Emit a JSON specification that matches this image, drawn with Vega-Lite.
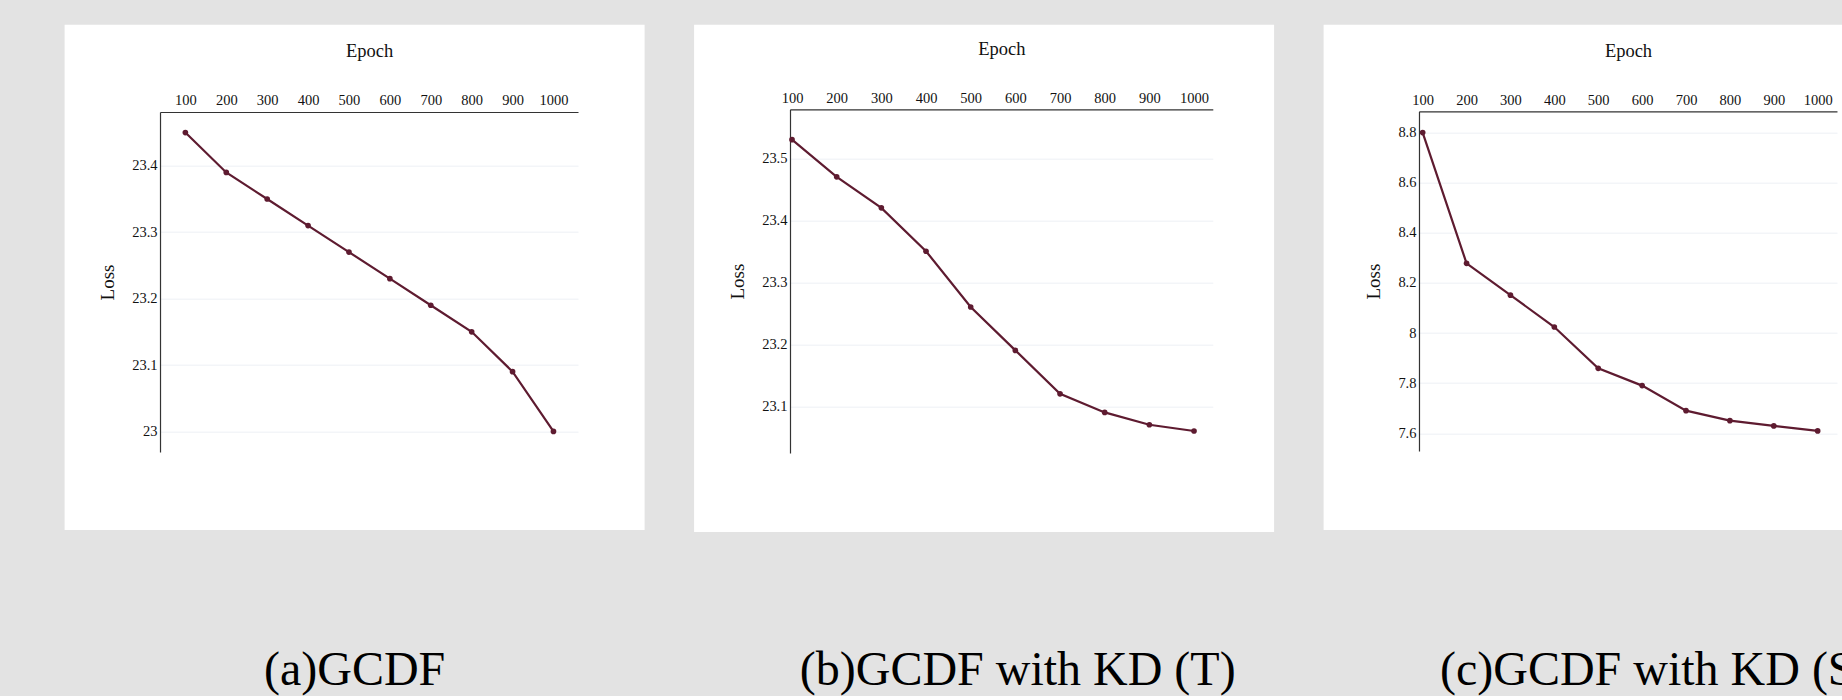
{
  "$schema": "https://vega.github.io/schema/vega-lite/v6.json",
  "background": "#e3e3e3",
  "padding": {"left": 64.6, "top": 24.7, "right": 0, "bottom": 0},
  "spacing": 49.5,
  "config": {
    "view": {"fill": "white", "stroke": null},
    "font": "Liberation Serif",
    "axis": {
      "labelFont": "Liberation Serif",
      "titleFont": "Liberation Serif",
      "labelColor": "#111",
      "titleColor": "#111",
      "titleFontWeight": "normal",
      "domainColor": "#333",
      "domainWidth": 1.2,
      "ticks": false,
      "labelFlush": false,
      "labelOverlap": false,
      "gridColor": "#edf0f5",
      "gridWidth": 1
    }
  },
  "datasets": {
    "a": [
      {"epoch": 100, "loss": 23.45}, {"epoch": 200, "loss": 23.39}, {"epoch": 300, "loss": 23.35},
      {"epoch": 400, "loss": 23.31}, {"epoch": 500, "loss": 23.27}, {"epoch": 600, "loss": 23.23},
      {"epoch": 700, "loss": 23.19}, {"epoch": 800, "loss": 23.15}, {"epoch": 900, "loss": 23.09},
      {"epoch": 1000, "loss": 23.0}
    ],
    "b": [
      {"epoch": 100, "loss": 23.53}, {"epoch": 200, "loss": 23.47}, {"epoch": 300, "loss": 23.42},
      {"epoch": 400, "loss": 23.35}, {"epoch": 500, "loss": 23.26}, {"epoch": 600, "loss": 23.19},
      {"epoch": 700, "loss": 23.12}, {"epoch": 800, "loss": 23.09}, {"epoch": 900, "loss": 23.07},
      {"epoch": 1000, "loss": 23.06}
    ],
    "c": [
      {"epoch": 100, "loss": 8.8}, {"epoch": 200, "loss": 8.278}, {"epoch": 300, "loss": 8.151},
      {"epoch": 400, "loss": 8.024}, {"epoch": 500, "loss": 7.859}, {"epoch": 600, "loss": 7.79},
      {"epoch": 700, "loss": 7.69}, {"epoch": 800, "loss": 7.65}, {"epoch": 900, "loss": 7.629},
      {"epoch": 1000, "loss": 7.609}
    ]
  },
  "hconcat": [
    {
      "width": 580,
      "height": 505.3,
      "data": {"name": "a"},
      "title": {"text": "(a)GCDF", "orient": "bottom", "anchor": "middle", "fontSize": 48, "fontWeight": "normal", "font": "Liberation Serif", "color": "#000", "baseline": "alphabetic", "offset": 155, "dx": 0},
      "mark": {"type": "line", "color": "#5e1b30", "strokeWidth": 2.2, "point": {"filled": true, "size": 32, "color": "#5e1b30"}},
      "encoding": {
        "x": {"field": "epoch", "type": "quantitative",
          "scale": {"domain": [38, 1060], "range": [95.4, 513.4], "nice": false, "zero": false},
          "axis": {"orient": "top", "offset": -87.3, "title": "Epoch", "titleFontSize": 18.5, "titleY": -55.3, "titleBaseline": "alphabetic",
            "values": [100, 200, 300, 400, 500, 600, 700, 800, 900, 1000], "format": "d", "labelFontSize": 14.5, "labelPadding": 7, "labelBaseline": "alphabetic", "grid": false}},
        "y": {"field": "loss", "type": "quantitative",
          "scale": {"domain": [22.969, 23.481], "range": [427.3, 87.3], "nice": false, "zero": false},
          "axis": {"orient": "left", "offset": -95.4, "title": "Loss", "titleFontSize": 19, "titleX": -46.4, "titleBaseline": "alphabetic", "titleAngle": 270,
            "values": [23, 23.1, 23.2, 23.3, 23.4], "format": "~g", "labelFontSize": 14.5, "labelPadding": 3, "grid": true}}
      }
    },
    {
      "width": 580,
      "height": 507.3,
      "data": {"name": "b"},
      "title": {"text": "(b)GCDF with KD (T)", "orient": "bottom", "anchor": "middle", "fontSize": 48, "fontWeight": "normal", "font": "Liberation Serif", "color": "#000", "baseline": "alphabetic", "offset": 153, "dx": 33.6},
      "mark": {"type": "line", "color": "#5e1b30", "strokeWidth": 2.2, "point": {"filled": true, "size": 32, "color": "#5e1b30"}},
      "encoding": {
        "x": {"field": "epoch", "type": "quantitative",
          "scale": {"domain": [95.5, 1042], "range": [95.9, 518.7], "nice": false, "zero": false},
          "axis": {"orient": "top", "offset": -84.6, "title": "Epoch", "titleFontSize": 18.5, "titleY": -55, "titleBaseline": "alphabetic",
            "values": [100, 200, 300, 400, 500, 600, 700, 800, 900, 1000], "format": "d", "labelFontSize": 14.5, "labelPadding": 7, "labelBaseline": "alphabetic", "grid": false}},
        "y": {"field": "loss", "type": "quantitative",
          "scale": {"domain": [23.0245, 23.579], "range": [428.3, 84.6], "nice": false, "zero": false},
          "axis": {"orient": "left", "offset": -95.9, "title": "Loss", "titleFontSize": 19, "titleX": -46.4, "titleBaseline": "alphabetic", "titleAngle": 270,
            "values": [23.1, 23.2, 23.3, 23.4, 23.5], "format": "~g", "labelFontSize": 14.5, "labelPadding": 3, "grid": true}}
      }
    },
    {
      "width": 580,
      "height": 505.3,
      "data": {"name": "c"},
      "title": {"text": "(c)GCDF with KD (S)", "orient": "bottom", "anchor": "middle", "fontSize": 48, "fontWeight": "normal", "font": "Liberation Serif", "color": "#000", "baseline": "alphabetic", "offset": 155, "dx": 41.7},
      "mark": {"type": "line", "color": "#5e1b30", "strokeWidth": 2.2, "point": {"filled": true, "size": 32, "color": "#5e1b30"}},
      "encoding": {
        "x": {"field": "epoch", "type": "quantitative",
          "scale": {"domain": [91.6, 1044], "range": [95.4, 513.4], "nice": false, "zero": false},
          "axis": {"orient": "top", "offset": -86.6, "title": "Epoch", "titleFontSize": 18.5, "titleY": -54.6, "titleBaseline": "alphabetic",
            "values": [100, 200, 300, 400, 500, 600, 700, 800, 900, 1000], "format": "d", "labelFontSize": 14.5, "labelPadding": 7, "labelBaseline": "alphabetic", "grid": false}},
        "y": {"field": "loss", "type": "quantitative",
          "scale": {"domain": [7.529, 8.885], "range": [426.3, 86.6], "nice": false, "zero": false},
          "axis": {"orient": "left", "offset": -95.4, "title": "Loss", "titleFontSize": 19, "titleX": -39.7, "titleBaseline": "alphabetic", "titleAngle": 270,
            "values": [7.6, 7.8, 8, 8.2, 8.4, 8.6, 8.8], "format": "~g", "labelFontSize": 14.5, "labelPadding": 3, "grid": true}}
      }
    }
  ]
}
